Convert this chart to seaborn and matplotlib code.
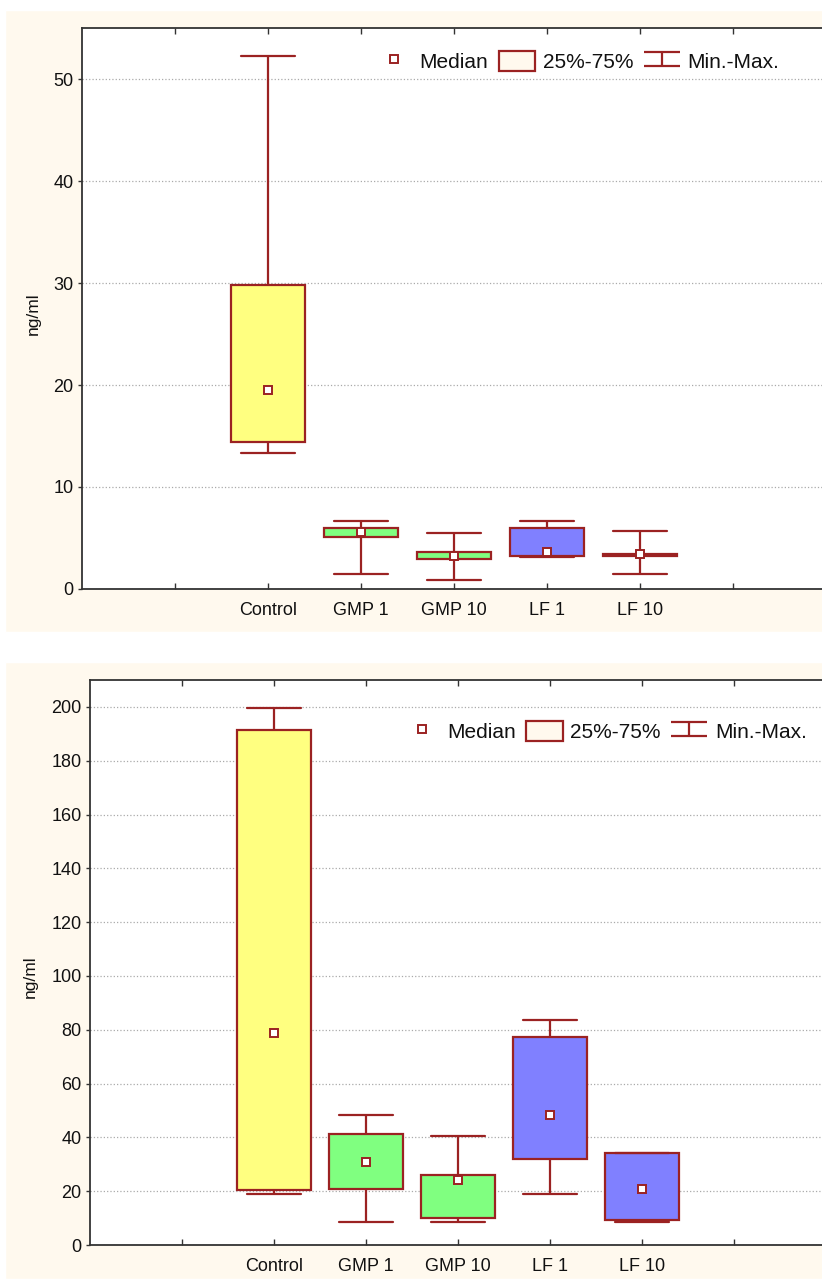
import numpy as np
import pandas as pd
import seaborn as sns
import matplotlib.pyplot as plt
from matplotlib.patches import Rectangle, Patch
from matplotlib.lines import Line2D
from matplotlib.path import Path

# data (min, 25%, median, 75%, max)
groups = ["Control", "GMP 1", "GMP 10", "LF 1", "LF 10"]
box_colors = ["#FFFF80", "#80FF80", "#80FF80", "#8080FF", "#8080FF"]

mins_a = [13.3, 1.5, 0.85, 3.1, 1.5]
q1_a = [14.4, 5.1, 2.9, 3.2, 3.25]
med_a = [19.5, 5.6, 3.2, 3.6, 3.4]
q3_a = [29.8, 5.95, 3.6, 5.95, 3.4]
maxs_a = [52.3, 6.65, 5.45, 6.65, 5.65]

mins_b = [19.0, 8.5, 8.5, 19.0, 8.7]
q1_b = [20.4, 20.9, 9.9, 32.0, 9.3]
med_b = [78.8, 30.7, 24.3, 48.3, 20.9]
q3_b = [191.4, 41.3, 26.0, 77.3, 34.1]
maxs_b = [199.6, 48.3, 40.4, 83.6, 34.1]

yticks_a = [0, 10, 20, 30, 40, 50]
yticks_b = [0, 20, 40, 60, 80, 100, 120, 140, 160, 180, 200]

edge = "#9B2222"
cream = "#FFF9EE"

sns.set_style("ticks")
plt.rcParams["font.family"] = ["Liberation Sans", "DejaVu Sans"]
plt.rcParams["text.color"] = "#111111"
plt.rcParams["axes.labelcolor"] = "#111111"
plt.rcParams["xtick.labelcolor"] = "#111111"
plt.rcParams["ytick.labelcolor"] = "#111111"


def five_num_frame(mins, q1, med, q3, maxs):
    # five points per group -> linear percentiles give back exactly these stats
    rows = []
    for g, a, b, c, d, e in zip(groups, mins, q1, med, q3, maxs):
        for v in (a, b, c, d, e):
            rows.append({"group": g, "value": v})
    return pd.DataFrame(rows)


def draw_panel(ax, mins, q1, med, q3, maxs, yticks, ylim, label_x, label_y, leg_anchor):
    df = five_num_frame(mins, q1, med, q3, maxs)
    sns.boxplot(data=df, x="group", y="value", hue="group", order=groups,
                palette=box_colors, legend=False, saturation=1, width=0.8,
                whis=(0, 100), linecolor=edge, linewidth=1.6, capwidths=0.58,
                medianprops={"visible": False}, showfliers=False, ax=ax)
    meds = pd.DataFrame({"group": groups, "median": med})
    sns.pointplot(data=meds, x="group", y="median", order=groups, errorbar=None,
                  color=edge, markers="s", linestyles="none", markersize=5.2,
                  markeredgewidth=1.4, markerfacecolor="white", zorder=5, ax=ax)

    ax.set_xlim(-2, 6)
    ax.set_xticks(np.arange(-1, len(groups) + 1))
    ax.set_xticklabels([""] + groups + [""])
    ax.set_ylim(*ylim)
    ax.set_yticks(yticks)
    ax.tick_params(axis="x", direction="in", top=True, length=4, width=1,
                   pad=9.5, labelsize=13, color="#333333")
    ax.tick_params(axis="y", direction="out", length=3, width=1, pad=3,
                   labelsize=13, color="#333333")
    ax.yaxis.grid(True, linestyle=":", color="#AAAAAA", linewidth=0.9)
    ax.set_axisbelow(True)
    for s in ax.spines.values():
        s.set_color("#333333")
        s.set_linewidth(1.3)
    ax.set_xlabel("")
    ax.set_ylabel("ng/ml", fontsize=12.5)
    ax.yaxis.set_label_coords(label_x, label_y)

    imark = Path([(-1, 0.38), (1, 0.38), (0, 0.38), (0, -0.38), (-1, -0.38), (1, -0.38)],
                 [Path.MOVETO, Path.LINETO, Path.MOVETO, Path.LINETO, Path.MOVETO, Path.LINETO])
    handles = [
        Line2D([], [], marker="s", linestyle="none", markersize=5.2, markeredgewidth=1.4,
               markerfacecolor="white", markeredgecolor=edge),
        Patch(facecolor=cream, edgecolor=edge, linewidth=1.6),
        Line2D([], [], marker=imark, linestyle="none", markersize=26, markeredgewidth=1.6,
               color=edge, fillstyle="none"),
    ]
    ax.legend(handles, ["Median", "25%-75%", "Min.-Max."], ncol=3, frameon=False,
              loc="center left", bbox_to_anchor=leg_anchor, fontsize=15,
              handlelength=1.75, handleheight=1.1, handletextpad=0.35,
              columnspacing=0.5, borderaxespad=0, borderpad=0)


fig = plt.figure(figsize=(8.22, 12.79), dpi=100, facecolor="white")
W, H = 822, 1279
fig.patches.append(Rectangle((5 / W, 1 - 632 / H), 1, (632 - 10) / H,
                             transform=fig.transFigure, facecolor=cream, zorder=-5))
fig.patches.append(Rectangle((5 / W, 0), 1, (1279 - 662) / H,
                             transform=fig.transFigure, facecolor=cream, zorder=-5))

ax1 = fig.add_axes([82 / W, 1 - 589 / H, 744 / W, 561 / H])
ax2 = fig.add_axes([90 / W, 1 - 1245 / H, 736 / W, 565 / H])

draw_panel(ax1, mins_a, q1_a, med_a, q3_a, maxs_a, yticks_a, (0, 55),
           -0.056, 0.49, (0.395, 0.941))
draw_panel(ax2, mins_b, q1_b, med_b, q3_b, maxs_b, yticks_b, (0, 210),
           -0.071, 0.475, (0.426, 0.909))

fig.savefig("out.png", dpi=100, facecolor="white")
